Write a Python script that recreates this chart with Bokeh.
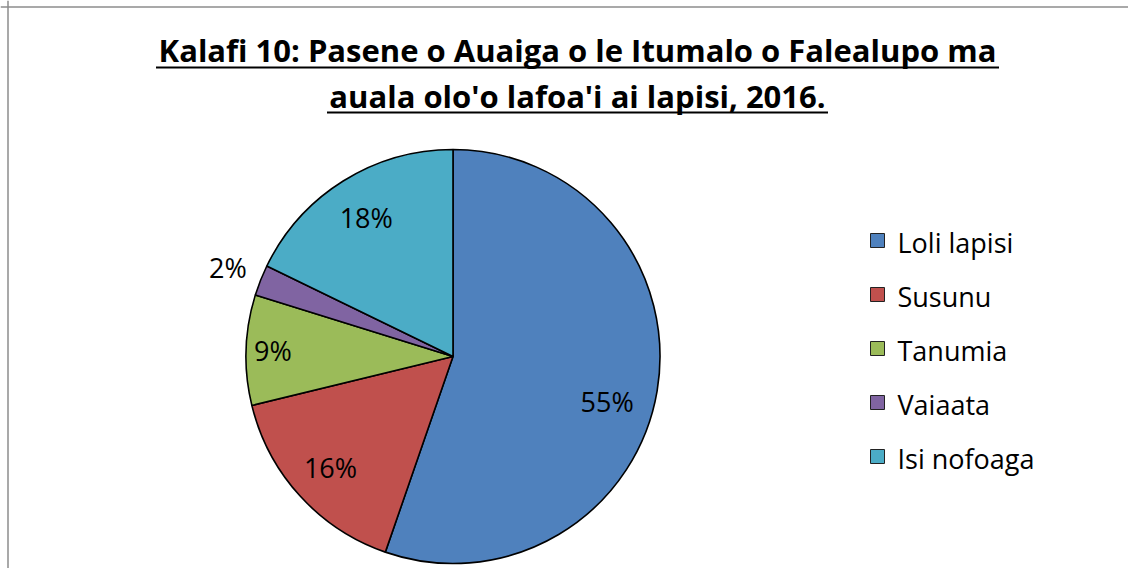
import math
from bokeh.plotting import figure
from bokeh.models import Label, Span, ColumnDataSource, Range1d
from bokeh.embed import file_html
from bokeh.resources import INLINE

# ---- data ----
categories = ["Loli lapisi", "Susunu", "Tanumia", "Vaiaata", "Isi nofoaga"]
percents = [55.3, 15.9, 8.6, 2.4, 17.8]
colors = ["#4F81BD", "#C0504D", "#9BBB59", "#8064A2", "#4BACC6"]
title_lines = ["Kalafi 10: Pasene o Auaiga o le Itumalo o Falealupo ma",
               "auala olo'o lafoa'i ai lapisi, 2016."]

# ---- layout (pixel-like data space) ----
W, H = 1128, 568
p = figure(width=W, height=H, output_backend="svg", toolbar_location=None,
           x_range=Range1d(0, W), y_range=Range1d(0, H),
           x_axis_type=None, y_axis_type=None, min_border=0,
           outline_line_color=None, background_fill_color="white",
           border_fill_color="white")
p.grid.visible = False

# frame (left + top)
p.add_layout(Span(location=7.5, dimension="height", line_color="#8c8c8c", line_width=1.5))
p.add_layout(Span(location=H - 6.5, dimension="width", line_color="#8c8c8c", line_width=1.5))

# pie
cx, cy, R = 452.5, 212, 207
total = sum(percents)
starts, ends, mids = [], [], []
cum = 0.0
for v in percents:
    a0 = math.pi / 2 - 2 * math.pi * cum / total
    cum += v
    a1 = math.pi / 2 - 2 * math.pi * cum / total
    starts.append(a0)
    ends.append(a1)
    mids.append((a0 + a1) / 2)

src = ColumnDataSource(dict(start=starts, end=ends, color=colors, cat=categories))
p.wedge(x=cx, y=cy, radius=R, start_angle="start", end_angle="end",
        direction="clock", fill_color="color", line_color="black",
        line_width=1.6, source=src)

# data labels (polar placement: radius fraction, angular nudge in degrees clockwise)
label_r = [0.775, 0.80, 0.87, 1.17, 0.79]
label_nudge = [6.6, 0, 0, 0, 0]
for v, m, fr, nd in zip(percents, mids, label_r, label_nudge):
    a = m - math.radians(nd)
    lx = cx + R * fr * math.cos(a)
    ly = cy + R * fr * math.sin(a)
    p.add_layout(Label(x=lx, y=ly, text=f"{round(v)}%", text_align="center",
                       text_baseline="middle", text_font="Open Sans",
                       text_font_size="27px", text_color="black"))

# title (bold, underlined)
tx = 577
title_mid = [519, 473]
under_y = [501, 456]
under_half = [421.5, 250.5]
for t, ty, uy, hw in zip(title_lines, title_mid, under_y, under_half):
    p.add_layout(Label(x=tx, y=ty, text=t, text_align="center",
                       text_baseline="middle", text_font="Open Sans",
                       text_font_style="bold", text_font_size="31px",
                       text_color="black"))
    p.segment(x0=tx - hw, y0=uy, x1=tx + hw, y1=uy,
              line_color="black", line_width=2)

# legend (manual)
lx0, ly0, pitch = 877, 328, 54
for i, (c, name) in enumerate(zip(colors, categories)):
    yy = ly0 - i * pitch
    p.rect(x=lx0, y=yy, width=14, height=14, fill_color=c,
           line_color="#222222", line_width=1)
    p.add_layout(Label(x=lx0 + 20, y=yy - 1.5, text=name, text_align="left",
                       text_baseline="middle", text_font="Open Sans",
                       text_font_size="27px", text_color="black"))

open("out.html", "w").write(file_html(p, INLINE))
